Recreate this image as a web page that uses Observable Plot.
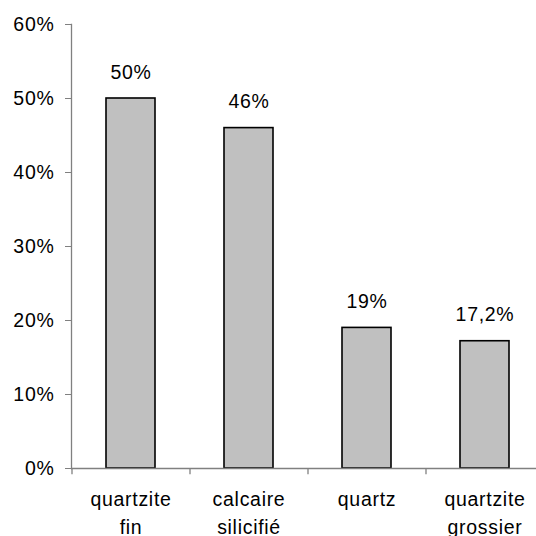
<!DOCTYPE html>
<html>
<head>
<meta charset="utf-8">
<script src="https://cdn.jsdelivr.net/npm/d3@7"></script>
<script src="https://cdn.jsdelivr.net/npm/@observablehq/plot@0.6"></script>
<style>
  html, body { margin: 0; padding: 0; background: #fff; overflow: hidden; width: 536px; height: 536px; }
  #chart svg { display: block; }
  #chart svg text { letter-spacing: 0.7px; }
</style>
</head>
<body>
<div id="chart"></div>
<script>
const categories = ["quartzite\nfin", "calcaire\nsilicifié", "quartz", "quartzite\ngrossier"];
const values = [50, 46, 19, 17.2];
const valueLabels = ["50%", "46%", "19%", "17,2%"];
const yTicks = [0, 10, 20, 30, 40, 50, 60];

const data = categories.map((c, i) => ({cat: c, value: values[i], label: valueLabels[i]}));

const W = 536, H = 536;
const mL = 71, mR = -7, mT = 24, mB = 68;
const step = (W - mR - mL) / categories.length;
const FS = 19.5;

const chart = Plot.plot({
  width: W,
  height: H,
  marginLeft: mL,
  marginRight: mR,
  marginTop: mT,
  marginBottom: mB,
  style: {fontFamily: "'Liberation Sans', Arial, sans-serif", fontSize: FS + "px", background: "#fff", color: "#000", overflow: "hidden"},
  x: {domain: categories, paddingInner: 0.585, paddingOuter: 0.2925, label: null},
  y: {domain: [0, 60], label: null},
  marks: [
    Plot.barY(data, {x: "cat", y: "value", fill: "#c0c0c0", stroke: "#000", strokeWidth: 1.6}),
    Plot.text(data, {x: "cat", y: "value", text: "label", dy: -26, fontSize: FS, fill: "#000"}),
    Plot.ruleY([0], {stroke: "#808080", strokeWidth: 1.3}),
    Plot.frame({anchor: "left", stroke: "#808080", strokeWidth: 1.3}),
    Plot.axisY({ticks: yTicks, tickSize: 6, tickPadding: 11, tickFormat: d => d + "%", stroke: "#808080", fill: "#000", fontSize: FS, label: null}),
    Plot.ruleX(categories, {x: d => d, y1: 0, y2: -0.85, dx: -step / 2, stroke: "#808080", strokeWidth: 1.3}),
    Plot.axisX({tickSize: 0, tickPadding: 17, fontSize: FS, lineHeight: 1.45, fill: "#000", label: null})
  ]
});
document.getElementById("chart").appendChild(chart);
</script>
</body>
</html>
